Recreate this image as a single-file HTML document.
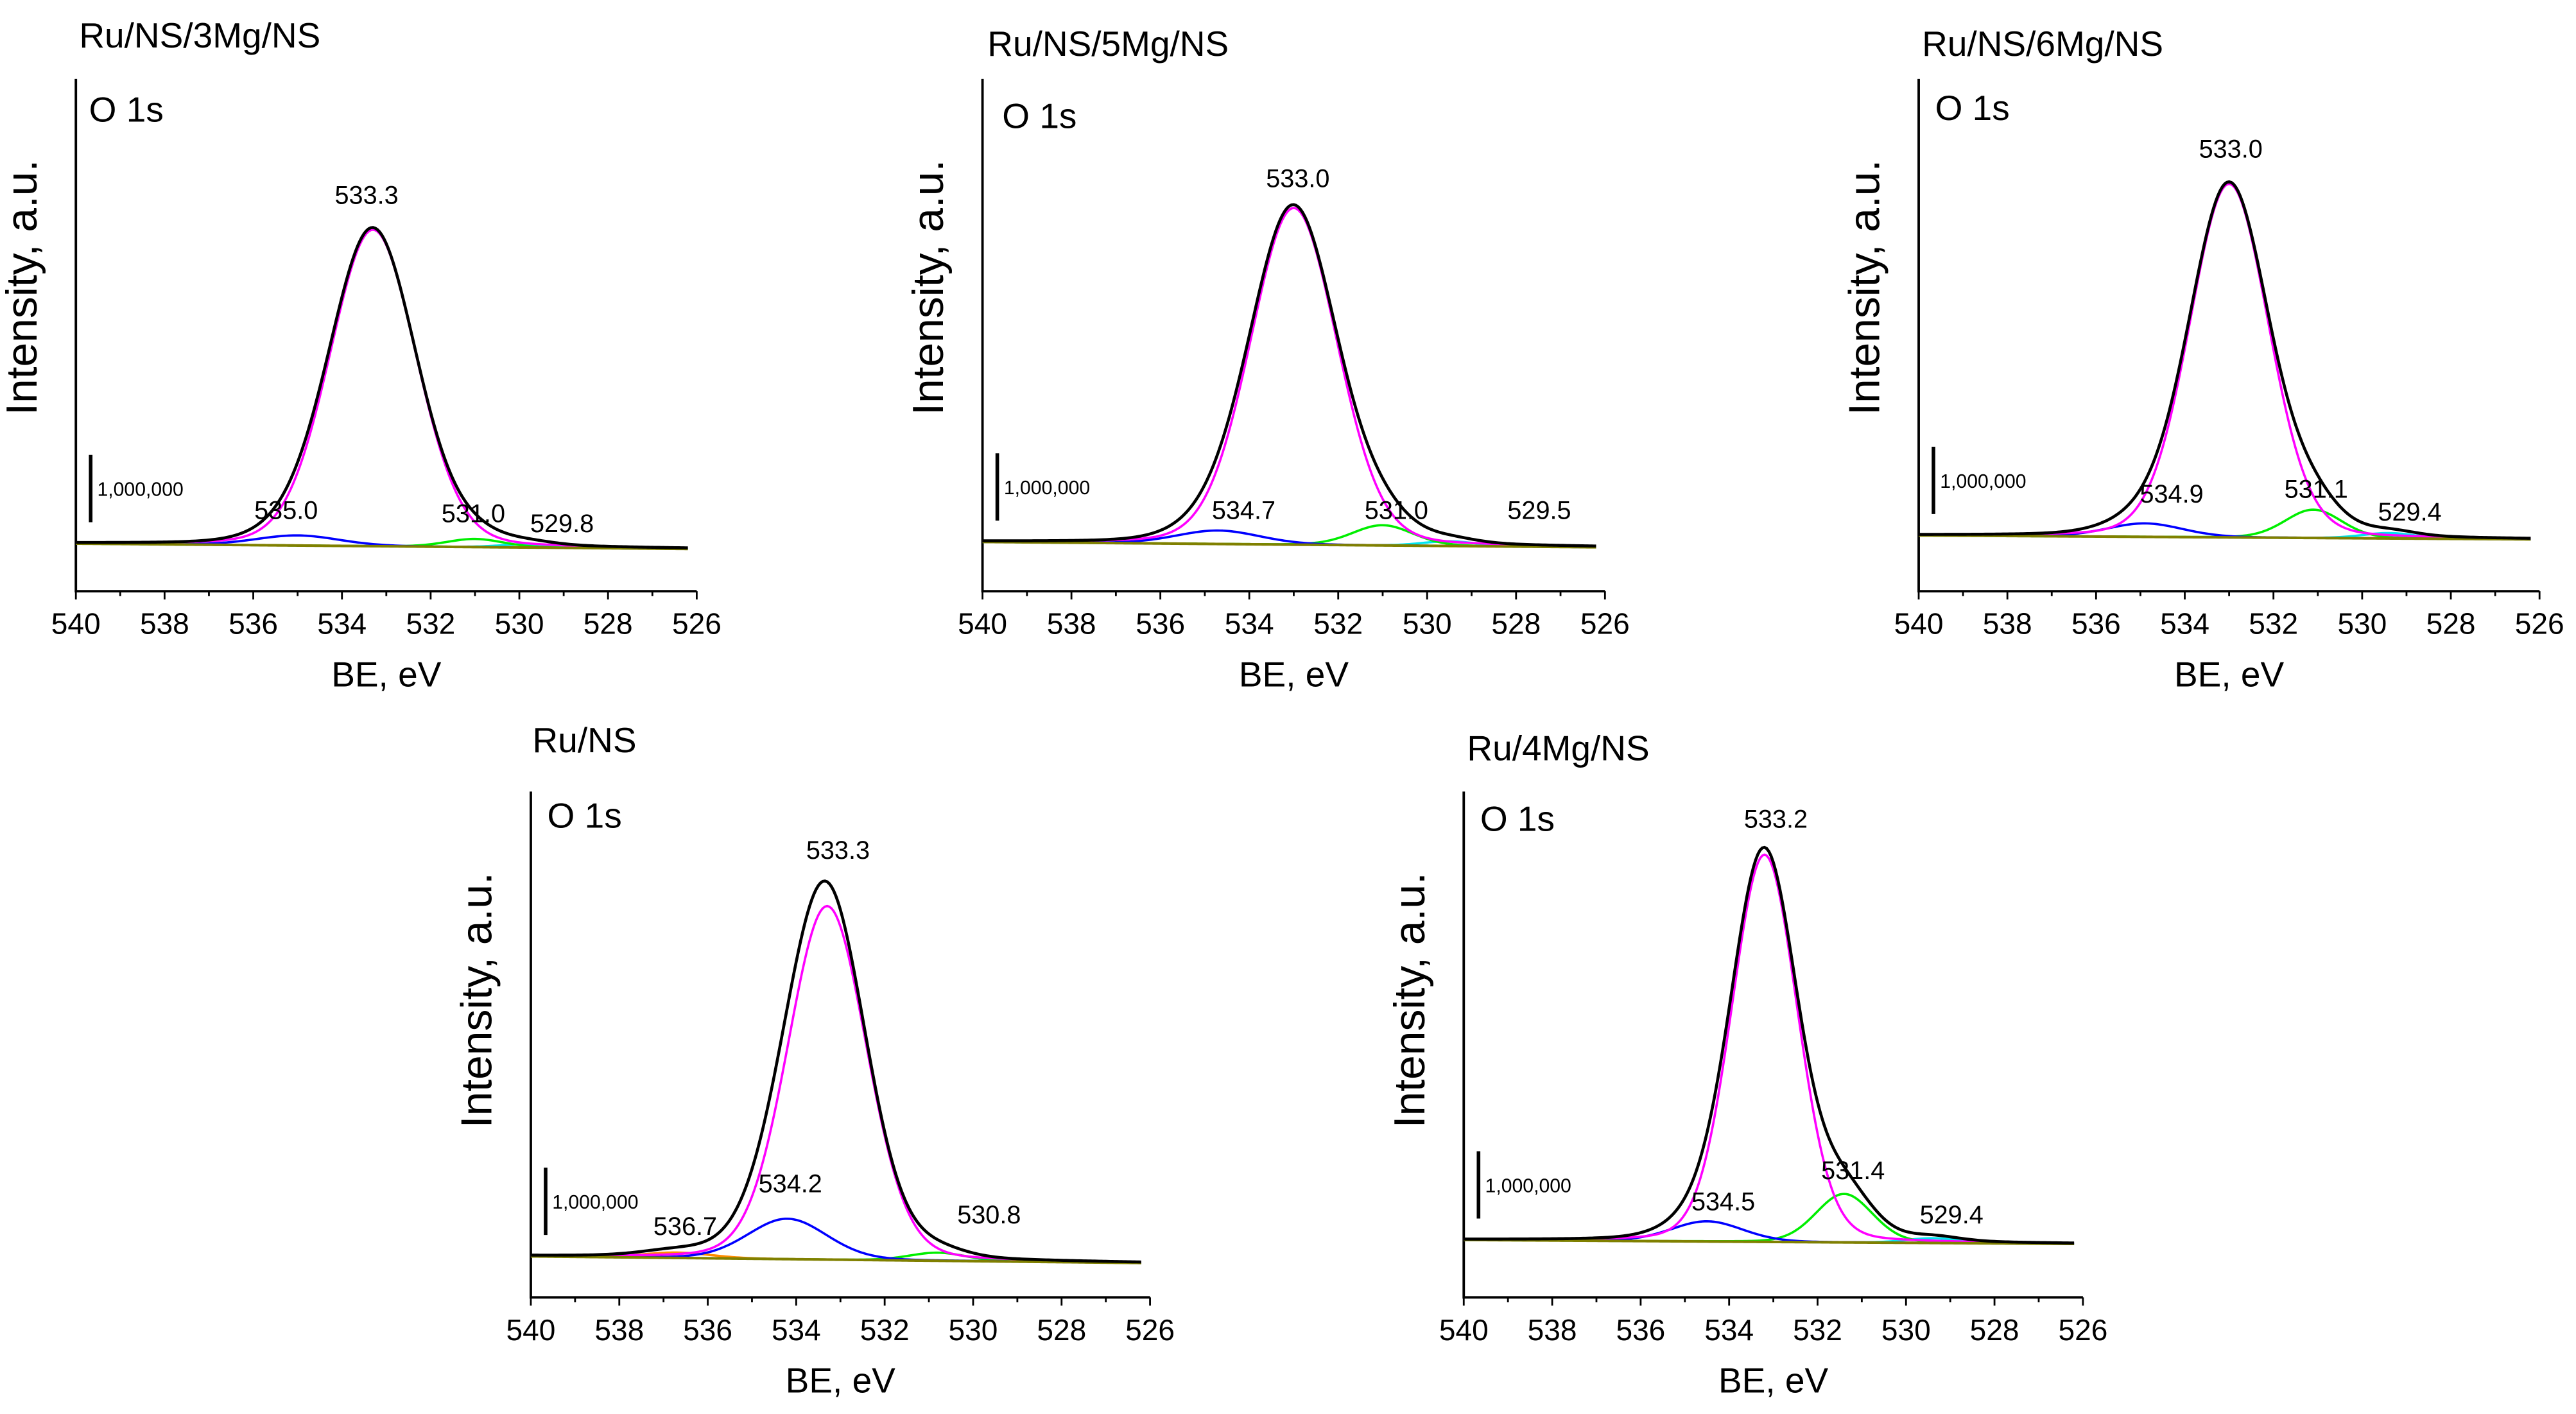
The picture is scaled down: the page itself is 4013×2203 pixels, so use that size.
<!DOCTYPE html>
<html><head><meta charset="utf-8"><style>
html,body{margin:0;padding:0;background:#fff;}
svg{display:block;font-family:"Liberation Sans",Arial,sans-serif;}
</style></head><body>
<svg id="fig" width="4013" height="2203" viewBox="0 0 1568 861" xmlns="http://www.w3.org/2000/svg"></svg>
<script>
// ---- data (heights in millions of counts above background) ----
const sampleNames = ["Ru/NS/3Mg/NS","Ru/NS/5Mg/NS","Ru/NS/6Mg/NS","Ru/NS","Ru/4Mg/NS"];
const xTicks = [540,538,536,534,532,530,528,526];
const colors = ["#ff00ff","#0000ff","#00ee00","#00e5ee","#ff8c00"];
const peakPos1 = [533.3,535.0,531.0,529.8];
const peakH1   = [4.7,0.15,0.12,0.05];
const peakW1   = [2.3,2.2,1.5,1.4];
const peakC1   = [0,1,2,3];
const peakPos2 = [533.0,534.7,531.0,529.5];
const peakH2   = [5.0,0.2,0.3,0.07];
const peakW2   = [2.3,2.2,1.6,1.4];
const peakC2   = [0,1,2,3];
const peakPos3 = [533.0,534.9,531.1,529.4];
const peakH3   = [5.25,0.2,0.42,0.08];
const peakW3   = [2.1,2.0,1.5,1.4];
const peakC3   = [0,1,2,3];
const peakPos4 = [533.3,534.2,530.8,536.7];
const peakH4   = [5.25,0.6,0.12,0.08];
const peakW4   = [2.1,2.1,1.5,1.8];
const peakC4   = [0,1,2,4];
const peakPos5 = [533.2,534.5,531.4,529.4];
const peakH5   = [5.75,0.3,0.72,0.07];
const peakW5   = [1.75,1.9,1.5,1.4];
const peakC5   = [0,1,2,3];
const bgStart = [0,0,0,0,0];
const bgEnd   = [-0.08,-0.08,-0.06,-0.1,-0.06];
const peakLabels = [
 ["533.3","535.0","531.0","529.8"],
 ["533.0","534.7","531.0","529.5"],
 ["533.0","534.9","531.1","529.4"],
 ["533.3","534.2","530.8","536.7"],
 ["533.2","534.5","531.4","529.4"]];
// ---- layout (overview units) ----
const layout = [
 {x0:46,x1:424,top:48,bot:360,base:331,ppm:41,title:[48,22],o1s:[54,66],lab:[[223,118],[174,310],[288,312],[342,318]]},
 {x0:598,x1:977,top:48,bot:360,base:330,ppm:41,title:[601,27],o1s:[610,70],lab:[[790,108],[757,310],[850,310],[937,310]]},
 {x0:1168,x1:1546,top:48,bot:360,base:326,ppm:41,title:[1170,27],o1s:[1178,65],lab:[[1358,90],[1322,300],[1410,297],[1467,311]]},
 {x0:323,x1:700,top:482,bot:790,base:765,ppm:41,title:[324,451],o1s:[333,496],lab:[[510,517],[481,720],[602,739],[417,746]]},
 {x0:891,x1:1268,top:482,bot:790,base:755,ppm:41,title:[893,456],o1s:[901,498],lab:[[1081,498],[1049,731],[1128,712],[1188,739]]}
];
const P=[[peakPos1,peakH1,peakW1,peakC1],[peakPos2,peakH2,peakW2,peakC2],[peakPos3,peakH3,peakW3,peakC3],[peakPos4,peakH4,peakW4,peakC4],[peakPos5,peakH5,peakW5,peakC5]];
const NS="http://www.w3.org/2000/svg";
const svg=document.getElementById('fig');
function mk(tag,attrs,parent,text){const e=document.createElementNS(NS,tag);for(const k in attrs)e.setAttribute(k,attrs[k]);if(text!==undefined)e.textContent=text;(parent||svg).appendChild(e);return e;}
function pv(x,c,h,w){const s=w/2.3548,g=Math.exp(-(x-c)*(x-c)/(2*s*s)),l=1/(1+4*(x-c)*(x-c)/(w*w));return h*(0.88*g+0.12*l);}
layout.forEach((L,i)=>{
 const g=mk('g',{});
 
 
 const X=e=>L.x0+(540-e)*(L.x1-L.x0)/14;
 const Y=v=>L.base-v*L.ppm;
 const bg=e=>bgStart[i]+(bgEnd[i]-bgStart[i])*(540-e)/14;
 const t=mk('text',{x:L.title[0],y:L.title[1]+7,'font-size':21.5},g,sampleNames[i]);
 
 const o=mk('text',{x:L.o1s[0],y:L.o1s[1]+8,'font-size':21.5},g,'O 1s');
 
 const ax=mk('path',{d:`M${L.x0} ${L.top}V${L.bot}H${L.x1}`,fill:'none',stroke:'#000','stroke-width':1.5},g);
 
 for(let e=540;e>=526;e--){const major=(e%2===0);mk('line',{x1:X(e),x2:X(e),y1:L.bot,y2:L.bot+(major?5:3),stroke:'#000','stroke-width':1.1},g);}
 xTicks.forEach(v=>{const tl=mk('text',{x:X(v),y:L.bot+26,'font-size':18,'text-anchor':'middle'},g,v);
  });
 const xt=mk('text',{x:(L.x0+L.x1)/2,y:L.bot+58,'font-size':21.5,'text-anchor':'middle'},g,'BE, eV');
 
 const yx=L.x0-24,yy=L.top+127;
 const yt=mk('text',{x:yx,y:yy,'font-size':26.5,'text-anchor':'middle',transform:`rotate(-90 ${yx} ${yy})`},g,'Intensity, a.u.');
 
 const sb=mk('line',{x1:L.x0+9,x2:L.x0+9,y1:L.base-54,y2:L.base-54+L.ppm,stroke:'#000','stroke-width':2.2},g);
 
 const st=mk('text',{x:L.x0+13,y:L.base-29,'font-size':11.8},g,'1,000,000');
 
 const [pos,hs,ws,cs]=P[i];
 const es=[];for(let e=540;e>=526.2-1e-9;e-=0.05)es.push(e);
 for(let k=pos.length-1;k>=0;k--){
  const d='M'+es.map(e=>X(e).toFixed(2)+' '+Y(bg(e)+pv(e,pos[k],hs[k],ws[k])).toFixed(2)).join('L');
  const c=mk('path',{d:d,fill:'none',stroke:colors[cs[k]],'stroke-width':1.4},g);
  
 }
 const bl=mk('path',{d:'M'+es.map(e=>X(e).toFixed(2)+' '+Y(bg(e)).toFixed(2)).join('L'),fill:'none',stroke:'#808000','stroke-width':1.6},g);
 
 const tot='M'+es.map(e=>{let v=bg(e);pos.forEach((p,k)=>v+=pv(e,p,hs[k],ws[k]));return X(e).toFixed(2)+' '+Y(v).toFixed(2);}).join('L');
 const tp=mk('path',{d:tot,fill:'none',stroke:'#000','stroke-width':1.8},g);
 
 peakLabels[i].forEach((s,k)=>{const pl=mk('text',{x:L.lab[k][0],y:L.lab[k][1]+6,'font-size':15.5,'text-anchor':'middle'},g,s);
  });
});
</script>
</body></html>
